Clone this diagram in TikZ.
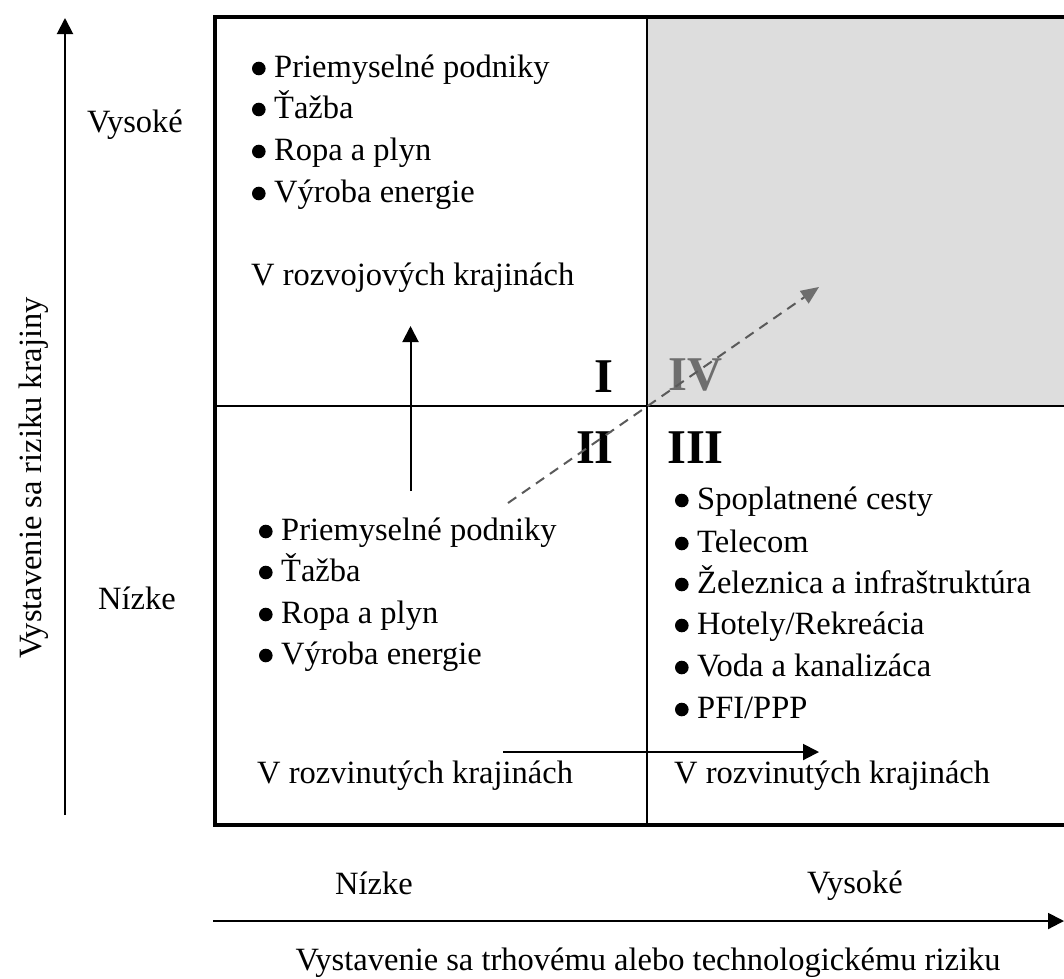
\documentclass[tikz,border=0pt]{standalone}
\usepackage{fontspec}
\setmainfont{Liberation Serif}
\usetikzlibrary{arrows.meta}
\definecolor{quadgray}{RGB}{221,221,221}
\definecolor{numgray}{RGB}{110,110,110}
\definecolor{dashgray}{RGB}{90,90,90}
\newcommand{\bitem}[4]{%
  \fill (#1+6.8,#2-8.5) circle (6.8);
  \node[txt] (#3) at (#1+22,#2) {#4};}
\begin{document}
\begin{tikzpicture}[x=1pt,y=-1pt,
  txt/.style={font=\fontsize{32.5}{38}\selectfont, inner sep=0pt, anchor=base west},
  ctxt/.style={font=\fontsize{32.5}{38}\selectfont, inner sep=0pt, anchor=base},
  num/.style={font=\fontsize{48.5}{52}\selectfont\bfseries, inner sep=0pt},
  arr/.style={line width=2pt, -{Triangle[length=16pt,width=16pt]}},
  frame/.style={line width=4pt},
  divider/.style={line width=2pt},
  dasharr/.style={dashgray, line width=2pt, dash pattern=on 10pt off 7pt,
    -{Triangle[length=18pt,width=15pt,color=numgray]}}]
\useasboundingbox (0,0) rectangle (1064,978);

% shaded quadrant IV
\fill[quadgray] (647,17) rectangle (1070,406);

% frame and dividers
\draw[divider] (647,17) -- (647,825);
\draw[divider] (215,406) -- (1070,406);
\draw[frame] (1070,17) -- (215,17) -- (215,825) -- (1070,825);

% quadrant I
\bitem{252}{77}{q1a}{Priemyselné podniky}
\bitem{252}{118}{q1b}{Ťažba}
\bitem{252}{160}{q1c}{Ropa a plyn}
\bitem{252}{202}{q1d}{Výroba energie}
\node[txt] (q1e) at (251,285) {V rozvojových krajinách};

% quadrant II
\bitem{259}{540}{q2a}{Priemyselné podniky}
\bitem{259}{581}{q2b}{Ťažba}
\bitem{259}{623}{q2c}{Ropa a plyn}
\bitem{259}{664}{q2d}{Výroba energie}
\node[txt] (q2e) at (257,783) {V rozvinutých krajinách};

% quadrant III
\bitem{675}{509}{q3a}{Spoplatnené cesty}
\bitem{675}{552}{q3b}{Telecom}
\bitem{675}{593}{q3c}{Železnica a infraštruktúra}
\bitem{675}{634}{q3d}{Hotely/Rekreácia}
\bitem{675}{676}{q3e}{Voda a kanalizáca}
\bitem{675}{718}{q3f}{PFI/PPP}
\node[txt] (q3g) at (674,783) {V rozvinutých krajinách};

% roman numerals
\node[num, anchor=base east] (n1) at (614,392) {I};
\node[num, anchor=base west, text=numgray] (n4) at (668,390) {IV};
\node[num, anchor=base east] (n2) at (614,463) {II};
\node[num, anchor=base west] (n3) at (667,463) {III};

% inner arrows
\coordinate (upS) at (410.5,491);
\coordinate (upE) at (410.5,326);
\draw[arr] (upS) -- (upE);
\coordinate (rtS) at (503,752);
\coordinate (rtE) at (819,752);
\draw[arr] (rtS) -- (rtE);
\coordinate (dS) at (508,503);
\coordinate (dE) at (819,287);
\draw[dasharr] (dS) -- (dE);

% axes
\coordinate (yS) at (65,815);
\coordinate (yE) at (65,18);
\draw[arr] (yS) -- (yE);
\coordinate (xS) at (213,921);
\coordinate (xE) at (1064,921);
\draw[arr] (xS) -- (xE);

% axis labels
\node[ctxt] (yhi) at (135,132) {Vysoké};
\node[ctxt] (ylo) at (137,609) {Nízke};
\node[ctxt, rotate=90] (ylab) at (41,478) {Vystavenie sa riziku krajiny};
\node[ctxt] (xlo) at (374,894) {Nízke};
\node[ctxt] (xhi) at (855,893) {Vysoké};
\node[ctxt] (xlab) at (648,970) {Vystavenie sa trhovému alebo technologickému riziku};
\end{tikzpicture}
\end{document}
